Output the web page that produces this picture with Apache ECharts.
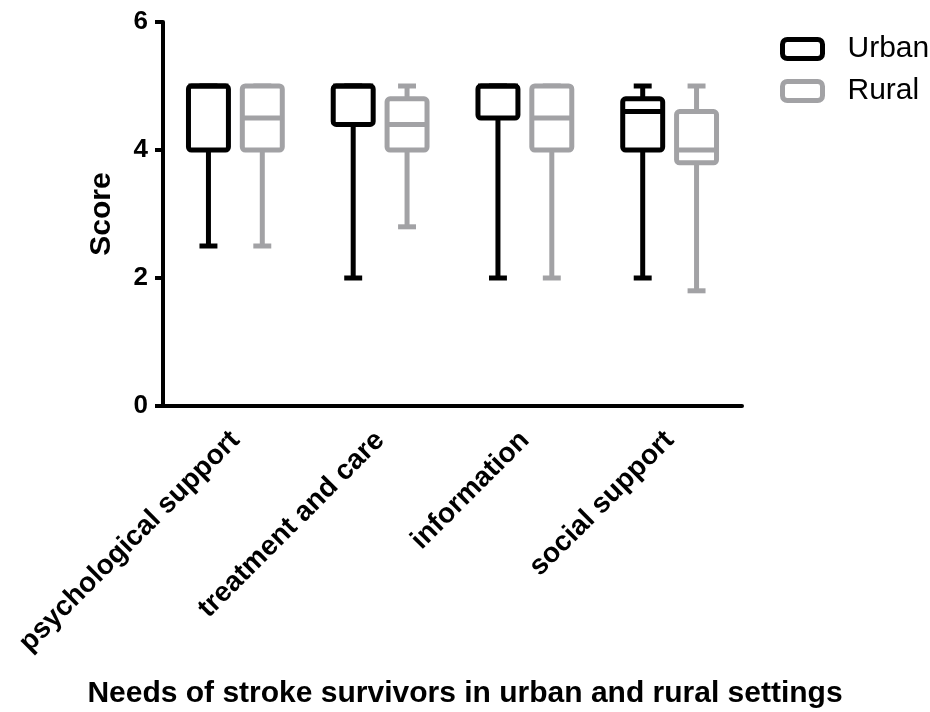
<!DOCTYPE html>
<html>
<head>
<meta charset="utf-8">
<script src="https://cdn.jsdelivr.net/npm/echarts@6/dist/echarts.min.js"></script>
<style>
    html, body { margin: 0; padding: 0; background: #fff; }
    #chart { width: 930px; height: 712px; }
</style>
</head>
<body>
<div id="chart"></div>
<script>
// 类别与箱线数据: [min, q1, median, q3, max]
var categories = ['psychological support', 'treatment and care', 'information', 'social support'];
var urbanStats = [
    [2.5, 4.0, 5.0, 5.0, 5.0],
    [2.0, 4.4, 5.0, 5.0, 5.0],
    [2.0, 4.5, 5.0, 5.0, 5.0],
    [2.0, 4.0, 4.6, 4.8, 5.0]
];
var ruralStats = [
    [2.5, 4.0, 4.5, 5.0, 5.0],
    [2.8, 4.0, 4.4, 4.8, 5.0],
    [2.0, 4.0, 4.5, 5.0, 5.0],
    [1.8, 3.8, 4.0, 4.6, 5.0]
];
var yTicks = [0, 2, 4, 6];

var FONT = '"Liberation Sans", Arial, sans-serif';
var URBAN_COLOR = '#000000';
var RURAL_COLOR = '#a2a2a5';

function toSeriesData (stats) {
    return stats.map(function (s, i) {
        return [i].concat(s);
    });
}

// 自定义箱线: offset 为相对类别宽度的偏移
function boxRenderer (offset, color) {
    return function (params, api) {
        var i = api.value(0);
        var band = api.size([1, 0])[0];
        var cx = api.coord([i, 0])[0] + offset * band;
        var yMin = api.coord([i, api.value(1)])[1];
        var yQ1 = api.coord([i, api.value(2)])[1];
        var yMed = api.coord([i, api.value(3)])[1];
        var yQ3 = api.coord([i, api.value(4)])[1];
        var yMax = api.coord([i, api.value(5)])[1];
        var bw = band * 0.276;
        var cw = band * 0.124;
        var st = { stroke: color, lineWidth: 5, fill: null, lineCap: 'butt' };
        return {
            type: 'group',
            children: [
                { type: 'line', shape: { x1: cx, y1: yQ1, x2: cx, y2: yMin }, style: st },
                { type: 'line', shape: { x1: cx, y1: yQ3, x2: cx, y2: yMax }, style: st },
                { type: 'line', shape: { x1: cx - cw / 2, y1: yMin, x2: cx + cw / 2, y2: yMin }, style: st },
                { type: 'line', shape: { x1: cx - cw / 2, y1: yMax, x2: cx + cw / 2, y2: yMax }, style: st },
                {
                    type: 'rect',
                    shape: { x: cx - bw / 2, y: yQ3, width: bw, height: yQ1 - yQ3, r: 3 },
                    style: { stroke: color, lineWidth: 5, fill: '#fff' }
                },
                { type: 'line', shape: { x1: cx - bw / 2, y1: yMed, x2: cx + bw / 2, y2: yMed }, style: st }
            ]
        };
    };
}

var chart = echarts.init(document.getElementById('chart'));
chart.setOption({
    backgroundColor: '#fff',
    animation: false,
    title: {
        text: 'Needs of stroke survivors in urban and rural settings',
        left: 'center',
        top: 674,
        textStyle: { fontFamily: FONT, fontSize: 30, fontWeight: 'bold', color: '#000' }
    },
    legend: {
        orient: 'vertical',
        left: 780,
        top: 34,
        padding: 0,
        itemWidth: 40,
        itemHeight: 19,
        itemGap: 12,
        textStyle: { fontFamily: FONT, fontSize: 30, color: '#000', lineHeight: 30, padding: [0, 0, 0, 20] },
        data: [
            { name: 'Urban', icon: 'roundRect', itemStyle: { color: '#fff', borderColor: URBAN_COLOR, borderWidth: 5 } },
            { name: 'Rural', icon: 'roundRect', itemStyle: { color: '#fff', borderColor: RURAL_COLOR, borderWidth: 5 } }
        ]
    },
    grid: { left: 163, right: 188, top: 22, bottom: 306 },
    xAxis: {
        type: 'category',
        data: categories,
        axisLine: { lineStyle: { color: '#000', width: 4 } },
        axisTick: { alignWithLabel: true, length: 9, lineStyle: { color: '#000', width: 4 } },
        axisLabel: {
            rotate: 45,
            margin: 30,
            interval: 0,
            fontFamily: FONT,
            fontSize: 28,
            fontWeight: 'bold',
            color: '#000'
        },
        splitLine: { show: false }
    },
    yAxis: {
        type: 'value',
        min: yTicks[0],
        max: yTicks[yTicks.length - 1],
        interval: 2,
        name: 'Score',
        nameLocation: 'middle',
        nameRotate: 90,
        nameGap: 46,
        nameTextStyle: { fontFamily: FONT, fontSize: 30, fontWeight: 'bold', color: '#000' },
        axisLine: { show: true, lineStyle: { color: '#000', width: 4 } },
        axisTick: { show: true, length: 8, lineStyle: { color: '#000', width: 4 } },
        axisLabel: { margin: 15, fontFamily: FONT, fontSize: 26, fontWeight: 'bold', color: '#000' },
        splitLine: { show: false }
    },
    series: [
        {
            name: 'Urban',
            type: 'custom',
            renderItem: boxRenderer(-0.186, URBAN_COLOR),
            encode: { x: 0, y: [1, 2, 3, 4, 5] },
            itemStyle: { color: URBAN_COLOR },
            data: toSeriesData(urbanStats)
        },
        {
            name: 'Rural',
            type: 'custom',
            renderItem: boxRenderer(0.186, RURAL_COLOR),
            encode: { x: 0, y: [1, 2, 3, 4, 5] },
            itemStyle: { color: RURAL_COLOR },
            data: toSeriesData(ruralStats)
        }
    ]
});
</script>
</body>
</html>
